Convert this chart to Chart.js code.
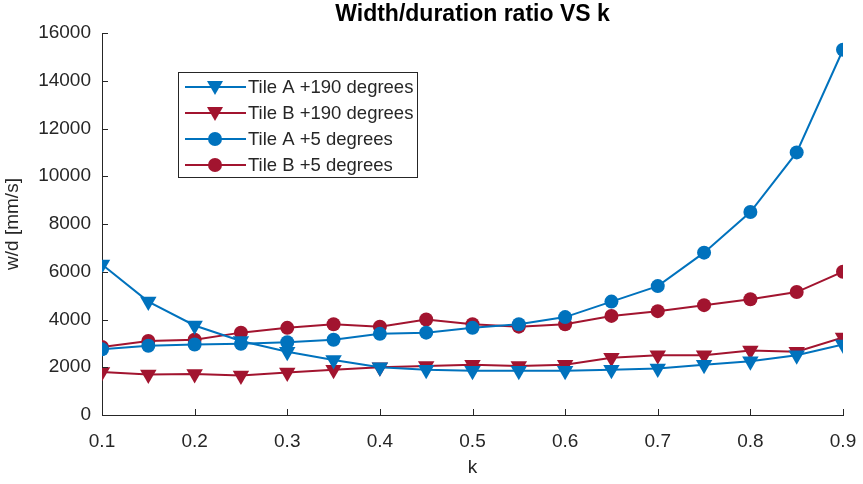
<!DOCTYPE html>
<html>
<head>
<meta charset="utf-8">
<script src="https://cdn.jsdelivr.net/npm/chart.js@4/dist/chart.umd.min.js"></script>
<style>
  html, body { margin: 0; padding: 0; background: #fff; }
  #wrap { width: 863px; height: 484px; }
</style>
</head>
<body>
<div id="wrap"><canvas id="mainChart" width="863" height="484"></canvas></div>
<script>
// k values along the x axis
var kValues = [0.1, 0.15, 0.2, 0.25, 0.3, 0.35, 0.4, 0.45, 0.5, 0.55, 0.6, 0.65, 0.7, 0.75, 0.8, 0.85, 0.9];

// w/d ratios [mm/s]
var tileA190 = [6300, 4750, 3750, 3100, 2650, 2300, 2000, 1900, 1850, 1850, 1850, 1900, 1950, 2100, 2250, 2500, 2950];
var tileB190 = [1800, 1700, 1720, 1650, 1780, 1900, 2000, 2050, 2100, 2050, 2100, 2400, 2500, 2500, 2700, 2650, 3250];
var tileA5 = [2750, 2900, 2950, 2980, 3050, 3150, 3400, 3450, 3650, 3800, 4100, 4750, 5400, 6800, 8500, 11000, 15300];
var tileB5 = [2850, 3100, 3150, 3450, 3650, 3800, 3700, 4000, 3800, 3700, 3800, 4150, 4350, 4600, 4850, 5150, 6000];

var seriesNames = ["Tile A +190 degrees", "Tile B +190 degrees", "Tile A +5 degrees", "Tile B +5 degrees"];
var yTicks = [0, 2000, 4000, 6000, 8000, 10000, 12000, 14000, 16000];

var blue = "#0072BD";
var red = "#A2142F";
var axisColor = "#262626";
var fontName = "'Liberation Sans', Arial, sans-serif";

function toPoints(vals) {
  return vals.map(function (v, i) { return { x: kValues[i], y: v }; });
}

function makeSet(label, vals, color, shape) {
  var tri = shape === "triangle";
  return {
    label: label,
    data: toPoints(vals),
    borderColor: color,
    backgroundColor: color,
    borderWidth: 2,
    pointStyle: shape,
    pointRotation: tri ? 180 : 0,
    pointRadius: tri ? 9.5 : 7,
    pointHoverRadius: tri ? 9.5 : 7,
    pointBorderWidth: 0,
    tension: 0
  };
}

// MATLAB style extras: inward ticks, title, legend box inside the axes
var matlabLook = {
  id: "matlabLook",
  afterDraw: function (chart) {
    var ctx = chart.ctx;
    var area = chart.chartArea;
    var xs = chart.scales.x;
    var ys = chart.scales.y;
    ctx.save();
    ctx.strokeStyle = axisColor;
    ctx.lineWidth = 1;
    ctx.beginPath();
    xs.ticks.forEach(function (t) {
      var px = Math.round(xs.getPixelForValue(t.value)) + 0.5;
      ctx.moveTo(px, area.bottom);
      ctx.lineTo(px, area.bottom - 6);
    });
    ys.ticks.forEach(function (t) {
      var py = Math.round(ys.getPixelForValue(t.value)) + 0.5;
      ctx.moveTo(area.left, py);
      ctx.lineTo(area.left + 6, py);
    });
    ctx.stroke();

    // title
    ctx.fillStyle = "#000";
    ctx.font = "bold 23px " + fontName;
    ctx.textAlign = "center";
    ctx.textBaseline = "middle";
    ctx.fillText("Width/duration ratio VS k", (area.left + area.right) / 2, 15);

    // legend
    var bx = 178, by = 72, bw = 239, bh = 105;
    ctx.fillStyle = "#fff";
    ctx.fillRect(bx, by, bw, bh);
    ctx.strokeStyle = axisColor;
    ctx.strokeRect(bx + 0.5, by + 0.5, bw, bh);
    ctx.font = "18.5px " + fontName;
    ctx.textAlign = "left";
    chart.data.datasets.forEach(function (ds, i) {
      var cy = by + 15 + i * 26;
      var mx = bx + 37;
      ctx.strokeStyle = ds.borderColor;
      ctx.lineWidth = 2;
      ctx.beginPath();
      ctx.moveTo(bx + 7, cy);
      ctx.lineTo(bx + 68, cy);
      ctx.stroke();
      ctx.fillStyle = ds.backgroundColor;
      ctx.beginPath();
      if (ds.pointStyle === "triangle") {
        ctx.moveTo(mx - 8, cy - 6);
        ctx.lineTo(mx + 8, cy - 6);
        ctx.lineTo(mx, cy + 8);
        ctx.closePath();
      } else {
        ctx.arc(mx, cy, 7, 0, Math.PI * 2);
      }
      ctx.fill();
      ctx.fillStyle = "#262626";
      ctx.fillText(ds.label, bx + 70, cy + 1);
    });
    ctx.restore();
  }
};

var data = {
  datasets: [
    makeSet(seriesNames[0], tileA190, blue, "triangle"),
    makeSet(seriesNames[1], tileB190, red, "triangle"),
    makeSet(seriesNames[2], tileA5, blue, "circle"),
    makeSet(seriesNames[3], tileB5, red, "circle")
  ]
};

var options = {
  responsive: false,
  animation: false,
  events: [],
  layout: { padding: { left: 0, right: 20, top: 33, bottom: 0 } },
  plugins: {
    legend: { display: false },
    title: { display: false },
    tooltip: { enabled: false }
  },
  scales: {
    x: {
      type: "linear",
      min: 0.1,
      max: 0.9,
      afterFit: function (scale) {
        scale.height = 69;
        scale.paddingLeft = 0;
        scale.paddingRight = 0;
      },
      grid: { display: false, drawTicks: false },
      border: { display: true, color: axisColor, width: 1 },
      ticks: {
        stepSize: 0.1,
        padding: 15,
        color: "#262626",
        font: { family: fontName, size: 19 },
        maxRotation: 0,
        callback: function (v) { return Number(v).toFixed(1); }
      },
      title: {
        display: true,
        text: "k",
        color: "#262626",
        font: { family: fontName, size: 19 },
        padding: { top: 0, bottom: 5 }
      }
    },
    y: {
      min: 0,
      max: 16000,
      afterFit: function (scale) {
        scale.width = 102;
        scale.paddingTop = 0;
        scale.paddingBottom = 0;
      },
      afterBuildTicks: function (scale) {
        scale.ticks = yTicks.map(function (v) { return { value: v }; });
      },
      grid: { display: false, drawTicks: false },
      border: { display: true, color: axisColor, width: 1 },
      ticks: {
        padding: 11,
        color: "#262626",
        font: { family: fontName, size: 19 },
        callback: function (v) { return String(v); }
      },
      title: {
        display: true,
        text: "w/d [mm/s]",
        color: "#262626",
        font: { family: fontName, size: 19 },
        padding: { top: 1, bottom: 0 }
      }
    }
  }
};

var config = {
  type: "line",
  data: data,
  options: options,
  plugins: [matlabLook]
};

var ctx = document.getElementById("mainChart");
new Chart(ctx, config);
</script>
</body>
</html>
